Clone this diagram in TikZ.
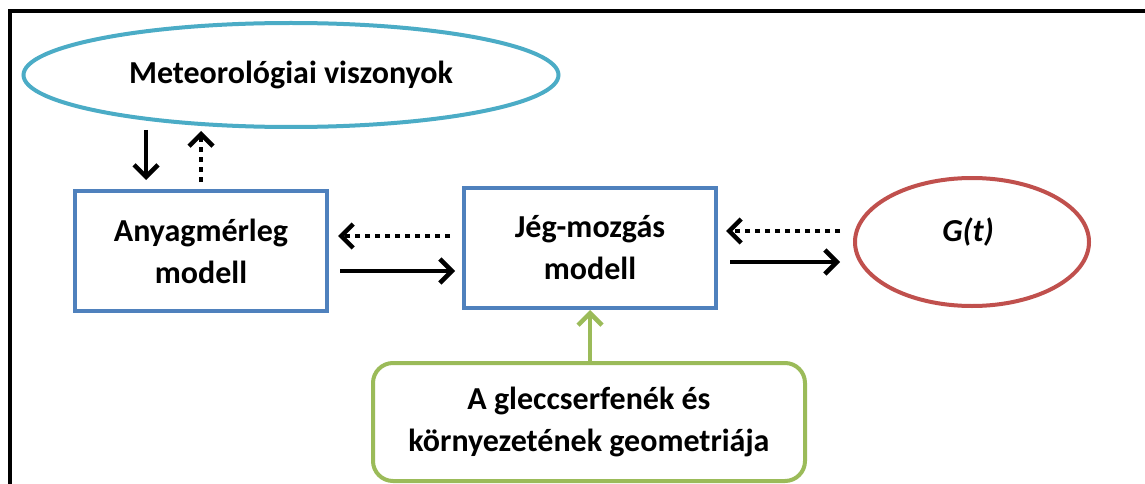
\documentclass[tikz,border=0pt]{standalone}
\usepackage{fontspec}
\setmainfont{Carlito}
\usetikzlibrary{arrows.meta,shapes.geometric}
\definecolor{cyanE}{HTML}{4BACC6}
\definecolor{blueB}{HTML}{4F81BD}
\definecolor{redE}{HTML}{C0504D}
\definecolor{greenB}{HTML}{9BBB59}
\tikzset{
  x=1pt,y=-1pt,
  lbl/.style={font=\fontsize{32}{42}\selectfont\bfseries, align=center, text=black},
  mbox/.style={draw=blueB, line width=4pt, minimum width=252pt, minimum height=120pt, lbl},
  arr/.style={line width=4.5pt, -{Straight Barb[length=12pt,width=24pt,line width=4.5pt]}},
  darr/.style={arr, dash pattern=on 5pt off 5pt},
  garr/.style={arr, draw=greenB}
}
\begin{document}
\begin{tikzpicture}
\useasboundingbox (0,0) rectangle (1145,484);
\clip (0,0) rectangle (1145,484);
\fill[white] (0,0) rectangle (1145,484);
\draw[line width=4pt] (10,520) -- (10,11) -- (1180,11);
\node[ellipse, draw=cyanE, line width=4pt, minimum width=535pt, minimum height=104pt, lbl] (met) at (291,75) {Meteorológiai viszonyok};
\node[mbox] (any) at (201,251) {Anyagmérleg\\modell};
\node[mbox] (jeg) at (590,248) {Jég-mozgás\\modell};
\node[ellipse, draw=redE, line width=4pt, minimum width=234pt, minimum height=128pt] (gt) at (972,242) {};
\node[lbl, font=\fontsize{32}{42}\selectfont\bfseries\itshape] (gtl) at (968,232) {G(t)};
\node[draw=greenB, line width=4pt, rounded corners=20pt, minimum width=432pt, minimum height=118pt, lbl] (geo) at (589,422) {A gleccserfenék és\\környezetének geometriája};
% arrows
\coordinate (a1s) at (146,130); \coordinate (a1e) at (146,180);
\draw[arr] (a1s) -- (a1e);
\coordinate (a2s) at (201,182); \coordinate (a2e) at (201,131);
\draw[darr] (a2s) -- (a2e);
\coordinate (b1s) at (450,236); \coordinate (b1e) at (338,236);
\draw[darr] (b1s) -- (b1e);
\coordinate (b2s) at (340,271); \coordinate (b2e) at (455,271);
\draw[arr] (b2s) -- (b2e);
\coordinate (c1s) at (840,231); \coordinate (c1e) at (726,231);
\draw[darr] (c1s) -- (c1e);
\coordinate (c2s) at (730,262); \coordinate (c2e) at (840,262);
\draw[arr] (c2s) -- (c2e);
\coordinate (g1e) at (590,310);
\draw[garr] (geo.north -| g1e) -- (g1e);
\end{tikzpicture}
\end{document}
